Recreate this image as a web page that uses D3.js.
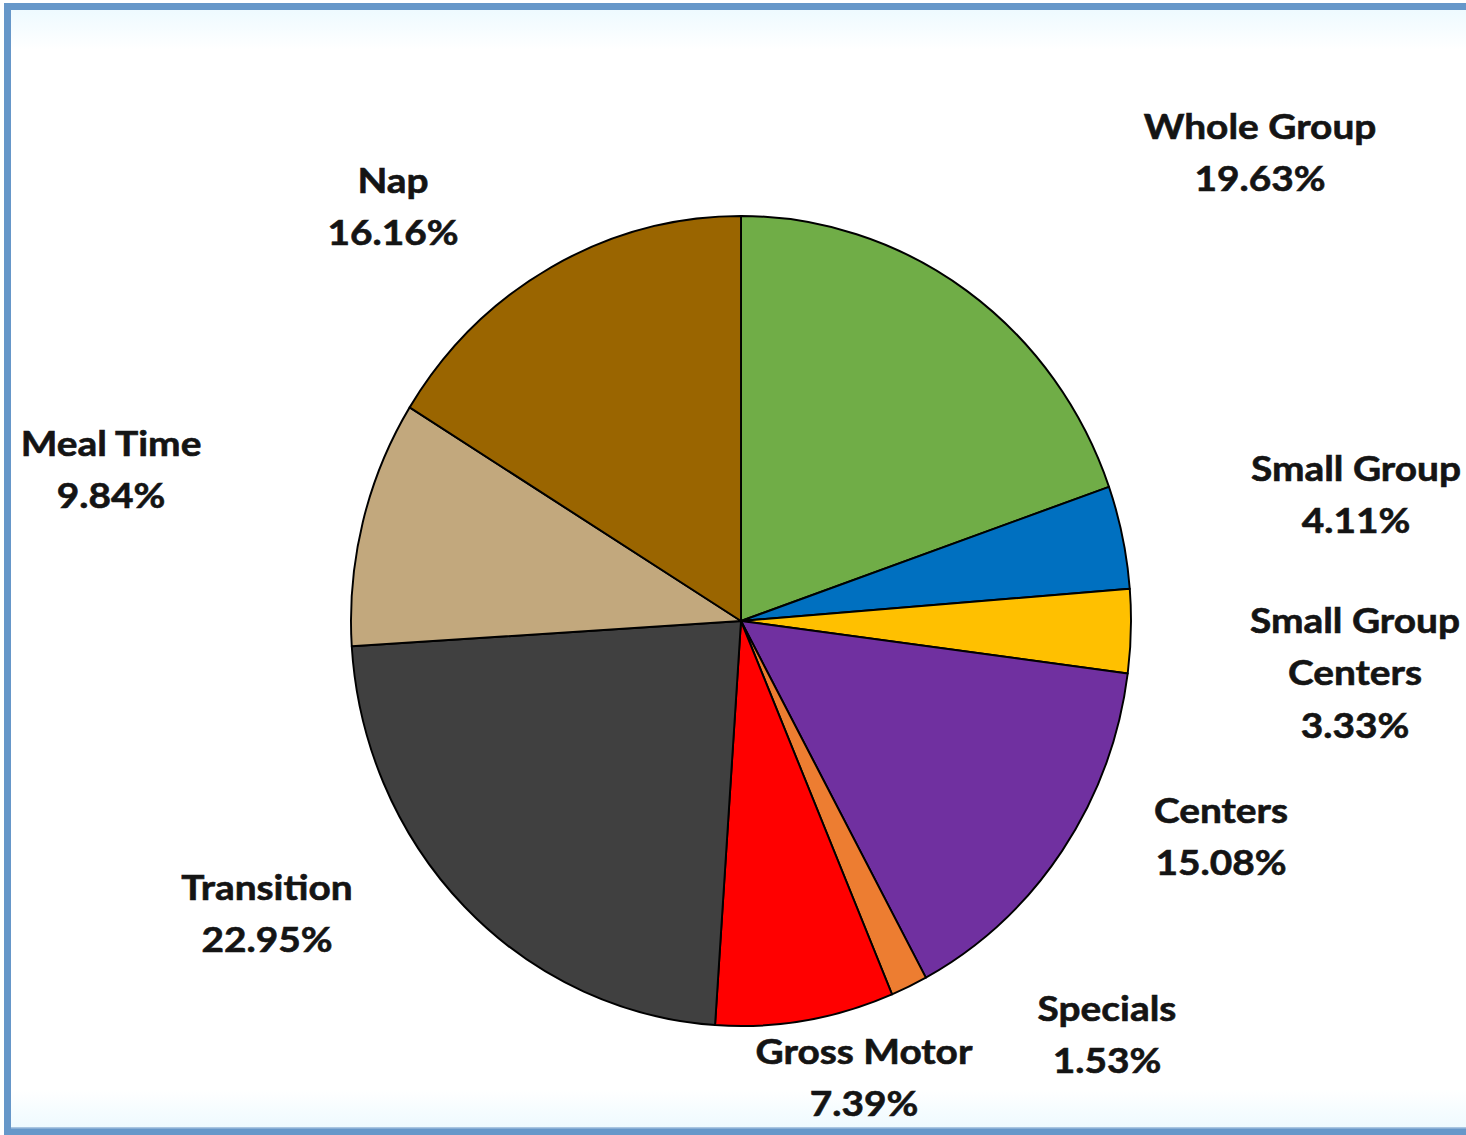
<!DOCTYPE html>
<html>
<head>
<meta charset="utf-8">
<script src="https://d3js.org/d3.v7.min.js"></script>
<style>
  html, body { margin: 0; padding: 0; background: #ffffff; }
  svg { display: block; }
</style>
</head>
<body>
<svg id="chart" width="1466" height="1135"></svg>
<script>
// Share of the classroom day spent in each activity (percent), clockwise from 12 o'clock
const categories = ["Whole Group", "Small Group", "Small Group Centers", "Centers", "Specials",
                    "Gross Motor", "Transition", "Meal Time", "Nap"];
const values = [19.63, 4.11, 3.33, 15.08, 1.53, 7.39, 22.95, 9.84, 16.16];
const colors = ["#70ad47", "#0070c0", "#ffc000", "#7030a0", "#ed7d31",
                "#ff0000", "#404040", "#c2a87d", "#9a6500"];
// label text lines (category name wrapped as in the chart)
const labelLines = [["Whole Group"], ["Small Group"], ["Small Group", "Centers"], ["Centers"], ["Specials"],
                    ["Gross Motor"], ["Transition"], ["Meal Time"], ["Nap"]];
// label anchor: centre x and first-line baseline
const labelAnchor = [[1260, 139], [1356, 481], [1355, 633], [1221, 823], [1107, 1021],
                     [864, 1064], [267, 900], [111, 456], [393, 193]];

const svg = d3.select("#chart");
const W = 1466, H = 1135;

// frame: light inner haze and blue edge (top, left, bottom)
svg.append("rect").attr("x", 0).attr("y", 0).attr("width", W).attr("height", H).attr("fill", "#ffffff");
const defs = svg.append("defs");
const gTop = defs.append("linearGradient").attr("id", "hazeTop").attr("x1", 0).attr("y1", 0).attr("x2", 0).attr("y2", 1);
gTop.append("stop").attr("offset", 0).attr("stop-color", "#eefaff");
gTop.append("stop").attr("offset", 1).attr("stop-color", "#ffffff");
svg.append("rect").attr("x", 11).attr("y", 10).attr("width", W - 11).attr("height", 40).attr("fill", "url(#hazeTop)");
const gBot = defs.append("linearGradient").attr("id", "hazeBot").attr("x1", 0).attr("y1", 1).attr("x2", 0).attr("y2", 0);
gBot.append("stop").attr("offset", 0).attr("stop-color", "#eefaff");
gBot.append("stop").attr("offset", 1).attr("stop-color", "#ffffff");
svg.append("rect").attr("x", 11).attr("y", 1090).attr("width", W - 11).attr("height", 38).attr("fill", "url(#hazeBot)");

const edge = "#6697c9";
svg.append("rect").attr("x", 4).attr("y", 3).attr("width", W - 4).attr("height", 7).attr("fill", edge);
svg.append("rect").attr("x", 4).attr("y", 3).attr("width", 7).attr("height", 1132).attr("fill", edge);
svg.append("rect").attr("x", 4).attr("y", 1128).attr("width", W - 4).attr("height", 7).attr("fill", edge);
svg.append("rect").attr("x", 11).attr("y", 1127).attr("width", W - 11).attr("height", 1.5).attr("fill", "#a9c6e2");

// pie
const pie = d3.pie().sort(null).value(d => d)(values);
const radius = 405;
const arc = d3.arc().innerRadius(0).outerRadius(radius);

const pieG = svg.append("g").attr("transform", "translate(741,621) scale(0.963,1)");
pieG.selectAll("path.slice")
  .data(pie)
  .join("path")
  .attr("class", "slice")
  .attr("d", arc)
  .attr("fill", (d, i) => colors[i])
  .attr("stroke", "#000000")
  .attr("stroke-width", 2)
  .attr("stroke-linejoin", "round");

// labels: category name(s) then percentage
const fmt = v => v.toFixed(2) + "%";
const lineGap = 52.5;
const labelG = svg.append("g")
  .attr("font-family", "Lato, 'Open Sans', sans-serif")
  .attr("font-weight", "bold")
  .attr("font-size", 35)
  .attr("fill", "#141414")
  .attr("stroke", "#141414")
  .attr("stroke-width", 0.6)
  .attr("text-anchor", "middle");

categories.forEach((c, i) => {
  const lines = labelLines[i].concat([fmt(values[i])]);
  const [x, y] = labelAnchor[i];
  const t = labelG.append("text")
    .attr("transform", `translate(${x},${y}) scale(1.11,1)`);
  lines.forEach((ln, k) => {
    t.append("tspan").attr("x", 0).attr("y", k * lineGap).text(ln);
  });
});
</script>
</body>
</html>
